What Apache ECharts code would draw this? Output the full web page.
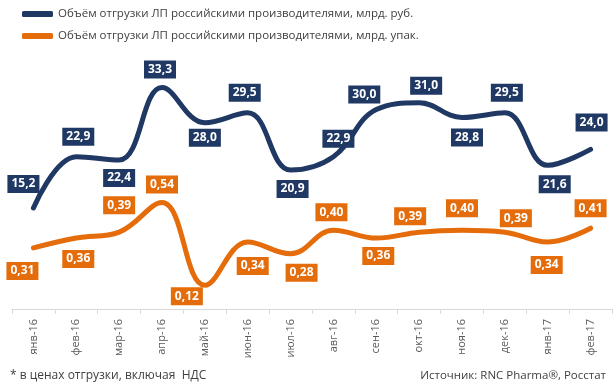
<!DOCTYPE html>
<html>
<head>
<meta charset="utf-8">
<script src="https://cdn.jsdelivr.net/npm/echarts@6/dist/echarts.min.js"></script>
<style>
html,body{margin:0;padding:0;background:#fff;}
#chart{width:614px;height:391px;}
</style>
</head>
<body>
<div id="chart"></div>
<script>
var categories = ['янв-16','фев-16','мар-16','апр-16','май-16','июн-16','июл-16','авг-16','сен-16','окт-16','ноя-16','дек-16','янв-17','фев-17'];
var rubValues = [15.2, 22.9, 22.4, 33.3, 28.0, 29.5, 20.9, 22.9, 30.0, 31.0, 28.8, 29.5, 21.6, 24.0];
var packValues = [0.31, 0.36, 0.39, 0.54, 0.12, 0.34, 0.28, 0.40, 0.36, 0.39, 0.40, 0.39, 0.34, 0.41];
var rubName = 'Объём отгрузки ЛП российскими производителями, млрд. руб.';
var packName = 'Объём отгрузки ЛП российскими производителями, млрд. упак.';
var footnote = '* в ценах отгрузки, включая  НДС';
var sourceText = 'Источник: RNC Pharma®, Росстат';

// label offsets (layout only)
var rubOffsets = [[-10,-24],[2,-20],[0,18],[-2,-18],[0,15],[-3,-20],[2,19],[5,-18],[-12,-15],[7,-17],[5,20],[2,-20],[7,19],[1,-27]];
var packOffsets = [[-11,23],[2,21],[0,-27],[0,-18],[-18,11],[5,24],[11,19],[-2,-18],[2,18],[-9,-16],[0,-22],[11,-14],[-1,23],[0,-20]];

var NAVY = '#1F3864';
var ORANGE = '#E46C0A';
var FONT = '"Open Sans", "Noto Sans", sans-serif';

function buildData(vals, offs) {
  return vals.map(function (v, i) {
    return { value: v, label: { offset: offs[i] } };
  });
}

var chart = echarts.init(document.getElementById('chart'));
chart.setOption({
  animation: false,
  textStyle: { fontFamily: FONT },
  legend: {
    orient: 'vertical',
    left: 17,
    top: 3,
    itemWidth: 31,
    itemHeight: 6,
    itemGap: 10,
    icon: 'roundRect',
    textStyle: { color: '#404040', fontSize: 11.5, fontFamily: FONT },
    data: [rubName, packName]
  },
  grid: { left: 12, right: 2, top: 43, bottom: 82 },
  xAxis: {
    type: 'category',
    data: categories,
    boundaryGap: true,
    axisLine: { lineStyle: { color: '#D9D9D9', width: 1 } },
    axisTick: { show: true, interval: 0, length: 5, lineStyle: { color: '#D9D9D9' } },
    axisLabel: { rotate: 90, interval: 0, color: '#595959', fontSize: 11, margin: 10, fontFamily: FONT }
  },
  yAxis: [
    { type: 'value', min: 0, max: 40, show: false, splitLine: { show: false } },
    { type: 'value', min: 0, max: 1.35, show: false, splitLine: { show: false } }
  ],
  graphic: [
    { type: 'text', left: 10, top: 370, style: { text: footnote, fill: '#404040', font: '12px ' + FONT } },
    { type: 'text', right: 8, top: 370, style: { text: sourceText, fill: '#404040', font: '11.5px ' + FONT } }
  ],
  series: [
    {
      name: rubName,
      type: 'line',
      yAxisIndex: 0,
      smooth: 0.4,
      symbol: 'circle',
      symbolSize: 0,
      showSymbol: true,
      lineStyle: { color: NAVY, width: 5, cap: 'round' },
      itemStyle: { color: NAVY },
      label: {
        show: true,
        position: 'inside',
        backgroundColor: NAVY,
        color: '#fff',
        fontWeight: 'bold',
        fontSize: 12,
        fontFamily: FONT,
        padding: [3, 4, 3, 4],
        formatter: function (p) { return p.value.toFixed(1).replace('.', ','); }
      },
      data: buildData(rubValues, rubOffsets),
      z: 3
    },
    {
      name: packName,
      type: 'line',
      yAxisIndex: 1,
      smooth: 0.4,
      symbol: 'circle',
      symbolSize: 0,
      showSymbol: true,
      lineStyle: { color: ORANGE, width: 5, cap: 'round' },
      itemStyle: { color: ORANGE },
      label: {
        show: true,
        position: 'inside',
        backgroundColor: ORANGE,
        color: '#fff',
        fontWeight: 'bold',
        fontSize: 12,
        fontFamily: FONT,
        padding: [3, 4, 3, 4],
        formatter: function (p) { return p.value.toFixed(2).replace('.', ','); }
      },
      data: buildData(packValues, packOffsets),
      z: 3
    }
  ]
});
</script>
</body>
</html>
